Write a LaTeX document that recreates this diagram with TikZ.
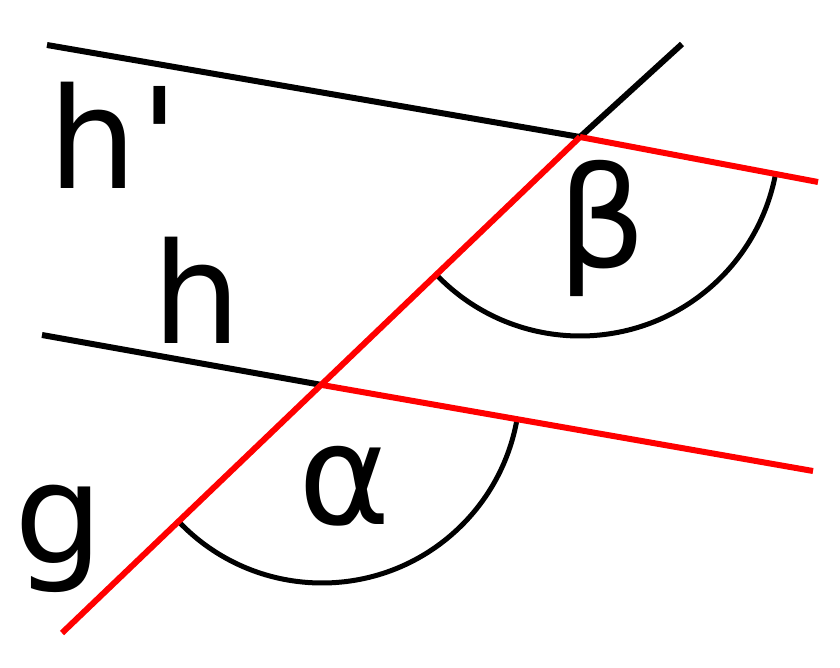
\documentclass[tikz,border=0pt]{standalone}
\usepackage{fontspec}
\newfontfamily\lblfont{DejaVu Sans}
\begin{document}
\begin{tikzpicture}[x=1pt,y=1pt,
  blk/.style={draw=black,line width=6pt},
  rd/.style={draw=red,line width=6pt},
  arcline/.style={draw=black,line width=5pt},
  lbl/.style={inner sep=0pt,outer sep=0pt,anchor=base west,font=\lblfont\fontsize{140}{160}\selectfont}]
\fill[white] (0,0) rectangle (840,-668);
\useasboundingbox (0,0) rectangle (840,-668);
\coordinate (A1) at (47,-45);
\coordinate (P) at (580,-137);
\coordinate (A2) at (818,-182);
\coordinate (G2) at (682,-44);
\coordinate (B1) at (42,-335);
\coordinate (Q) at (322,-385);
\coordinate (B2) at (813,-471);
\coordinate (G1) at (62,-633);
% arcs
\draw[arcline] ([shift={(-136.3:198)}]Q) arc[start angle=-136.3,end angle=-10.4,radius=198];
\draw[arcline] ([shift={(-136.3:199)}]P) arc[start angle=-136.3,end angle=-11.3,radius=199];
% black parts
\draw[blk] (A1) -- (P);
\draw[blk] (B1) -- (Q);
\draw[blk] (P) -- (G2);
% red parts
\draw[rd] (P) -- (A2);
\draw[rd] (Q) -- (B2);
\draw[rd] (G1) -- (P);
% labels
\node[lbl] (lhp) at (48,-189) {h\kern4pt'};
\node[lbl] (lh) at (152,-343) {h};
\node[lbl] (lg) at (14,-563) {g};
\node[lbl] (la) at (298,-524) {α};
\node[lbl] (lb) at (557,-268) {β};
\end{tikzpicture}
\end{document}
